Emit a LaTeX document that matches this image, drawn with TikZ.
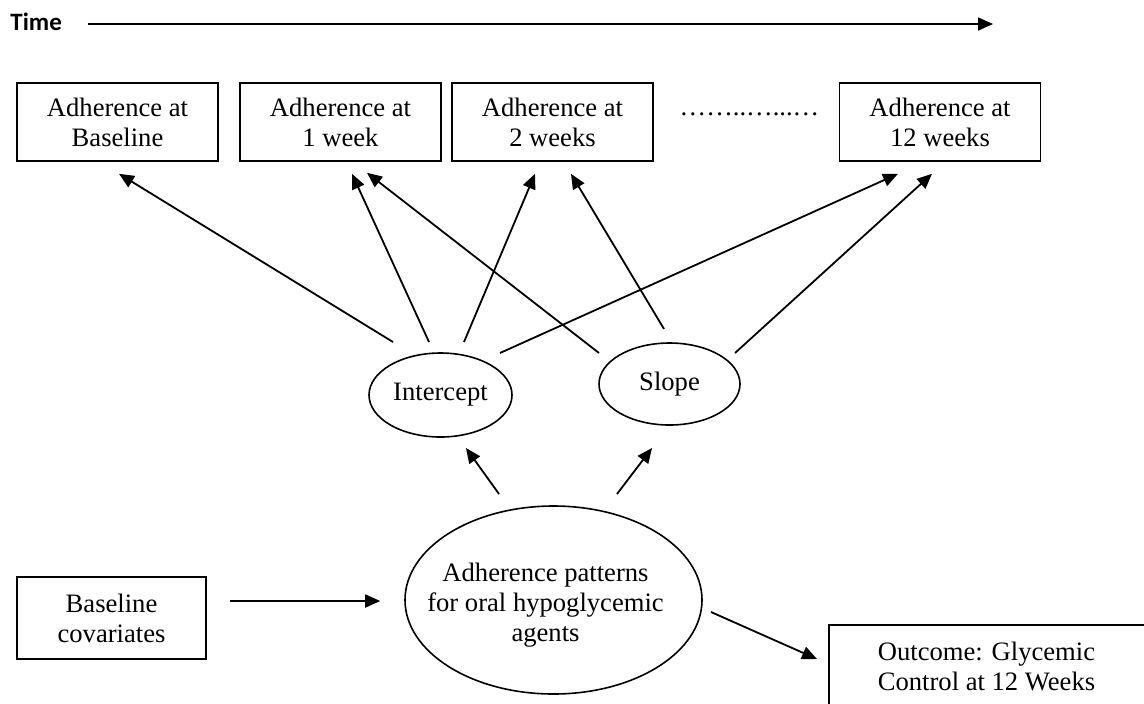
\documentclass[tikz,border=0pt]{standalone}
\usepackage{fontspec}
\setmainfont{Liberation Serif}
\newfontfamily\calibri{Carlito}
\usetikzlibrary{shapes.geometric,arrows.meta,calc}
\begin{document}
\begin{tikzpicture}[x=0.5pt,y=-0.5pt,
  font=\fontsize{13.3}{15}\selectfont,
  every node/.style={align=center},
  boxnode/.style={draw,line width=0.8pt,inner sep=0pt,minimum width=100.5pt,minimum height=39pt},
  ellnode/.style={draw,line width=0.8pt,ellipse,inner sep=0pt},
  arr/.style={line width=0.9pt,-{Triangle[length=7.5pt,width=6.5pt]}}]
\useasboundingbox (0,0) rectangle (1144,703);
\clip (0,0) rectangle (1144,703);
% time axis
\node[anchor=base west,inner sep=0pt,font=\calibri\bfseries\fontsize{12.5}{14}\selectfont] (time) at (10,30) {Time};
\coordinate (timeend) at (993,24);
\draw[arr] ($(time.base east)+(26,-6)$) -- (timeend);
% top boxes
\node[boxnode] (box1) at (117.5,122) {Adherence at\\Baseline};
\node[boxnode] (box2) at (340.5,122) {Adherence at\\1 week};
\node[boxnode] (box3) at (552.5,122) {Adherence at\\2 weeks};
\node[anchor=base,inner sep=0pt] (dots) at (749.5,115) {……..…...…};
\node[boxnode] (box4) at (940,122) {Adherence at\\12 weeks};
% latent ellipses
\node[ellnode,minimum width=71.5pt,minimum height=42pt] (intercept) at (440.5,395) {Intercept};
\node[ellnode,minimum width=70.5pt,minimum height=41pt] (slope) at (669.5,384) {Slope};
\node[ellnode,minimum width=148.5pt,minimum height=94pt] (big) at (553.5,600) {};
\node[inner sep=0pt] (bigtext) at ($(big.center)+(-8,5)$) {Adherence patterns\\for oral hypoglycemic\\agents};
% bottom boxes
\node[boxnode,minimum width=94.5pt,minimum height=41pt] (cov) at (111.5,618) {Baseline\\covariates};
\node[boxnode,minimum width=170pt,minimum height=42pt,anchor=north west] (out) at (828,624) {};
\node[inner sep=0pt] (outtext) at (986.5,666) {Outcome: Glycemic\\Control at 12 Weeks};
% arrows from intercept
\draw[arr] ($(intercept.center)+(-47.5,-53)$) -- ($(box1.south)+(1.5,12)$);
\draw[arr] ($(intercept.center)+(-11.5,-53)$) -- ($(box2.south)+(11.5,12)$);
\draw[arr] ($(intercept.center)+(23.5,-53)$) -- ($(box3.south)+(-17.5,12)$);
\draw[arr] ($(intercept.center)+(59.5,-42)$) -- ($(box4.south)+(-42,12)$);
% arrows from slope
\draw[arr] ($(slope.center)+(-70.5,-31)$) -- ($(box2.south)+(26.5,11)$);
\draw[arr] ($(slope.center)+(-5.5,-55)$) -- ($(box3.south)+(18.5,12)$);
\draw[arr] ($(slope.center)+(65.5,-31)$) -- ($(box4.south)+(-8,12)$);
% arrows from big ellipse
\draw[arr] ($(big.center)+(-54.5,-106)$) -- ($(intercept.center)+(25.5,53)$);
\draw[arr] ($(big.center)+(63.5,-106)$) -- ($(slope.center)+(-17.5,64)$);
\draw[arr] ($(cov.east)+(23,-17)$) -- ($(big.west)+(-24,1)$);
\draw[arr] ($(big.center)+(157.5,12)$) -- ($(out.north west)+(-11,35)$);
\end{tikzpicture}
\end{document}
